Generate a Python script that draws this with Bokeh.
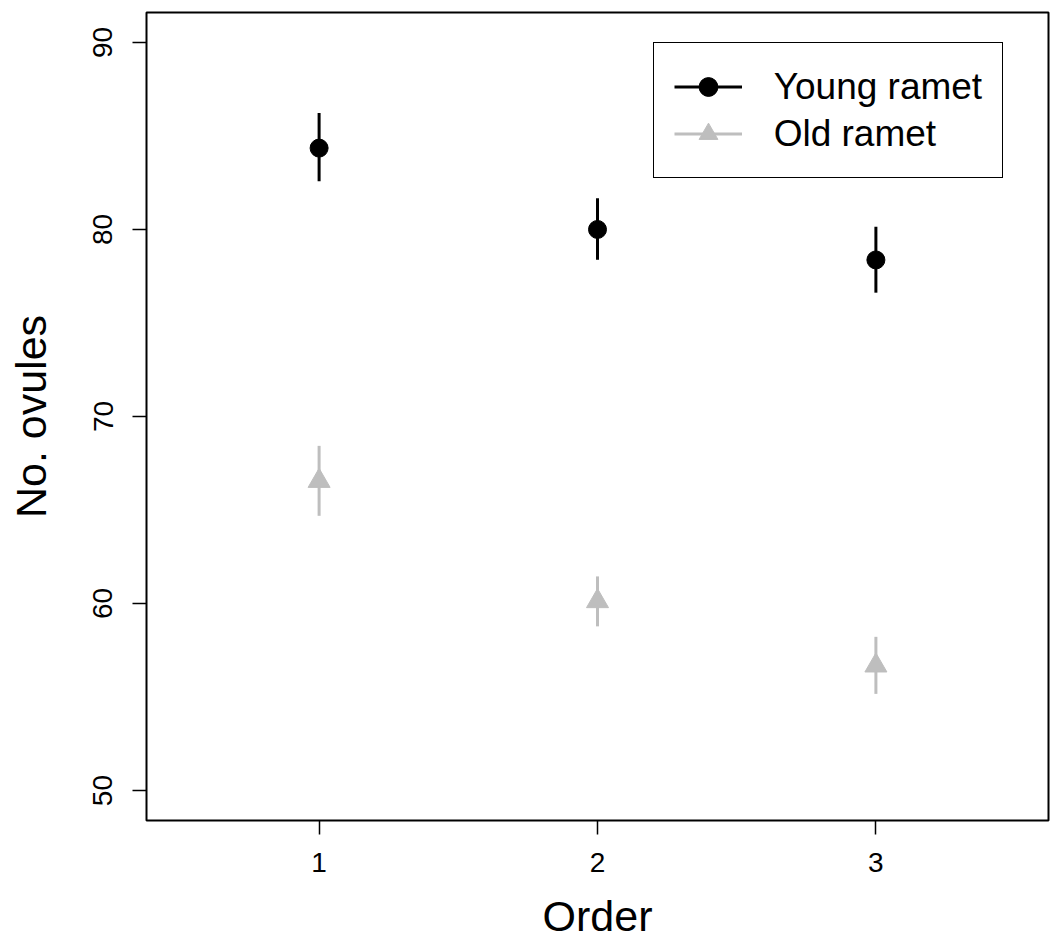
from bokeh.plotting import figure
from bokeh.models import ColumnDataSource, Range1d, FixedTicker, Legend, LegendItem
from bokeh.embed import file_html
from bokeh.resources import INLINE

# ---- data ----
order = [1, 2, 3]
young_mean = [84.35, 80.0, 78.37]
young_lo = [82.58, 78.38, 76.62]
young_hi = [86.23, 81.67, 80.14]
old_mean = [66.55, 60.12, 56.68]
old_lo = [64.69, 58.78, 55.17]
old_hi = [68.43, 61.45, 58.22]
y_ticks = [50, 60, 70, 80, 90]
x_ticks = [1, 2, 3]
series_names = ["Young ramet", "Old ramet"]
x_title = "Order"
y_title = "No. ovules"

FONT = "Liberation Sans"
GRAY = "#BEBEBE"

young = ColumnDataSource(dict(x=order, m=young_mean, lo=young_lo, hi=young_hi))
old = ColumnDataSource(dict(x=order, m=old_mean, lo=old_lo, hi=old_hi))

p = figure(width=1052, height=943, output_backend="svg", toolbar_location=None,
           x_range=Range1d(0.38, 3.62), y_range=Range1d(48.4, 91.6),
           min_border_left=146, min_border_right=4, min_border_top=12, min_border_bottom=123)
p.background_fill_color = "white"
p.border_fill_color = "white"
p.outline_line_color = "black"
p.outline_line_width = 2
p.grid.visible = False

for ax in (p.xaxis[0], p.yaxis[0]):
    ax.axis_line_color = None
    ax.major_tick_in = 0
    ax.major_tick_out = 14
    ax.major_tick_line_width = 1.5
    ax.major_tick_line_color = "black"
    ax.minor_tick_line_color = None
    ax.major_label_text_font = FONT
    ax.major_label_text_font_size = "28px"
    ax.major_label_text_color = "black"
    ax.axis_label_text_font = FONT
    ax.axis_label_text_font_size = "43px"
    ax.axis_label_text_font_style = "normal"
    ax.axis_label_text_color = "black"

p.xaxis.ticker = FixedTicker(ticks=x_ticks)
p.yaxis.ticker = FixedTicker(ticks=y_ticks)
p.xaxis.axis_label = x_title
p.yaxis.axis_label = y_title
p.xaxis.major_label_standoff = 18
p.xaxis.axis_label_standoff = 17
p.yaxis.major_label_orientation = "vertical"
p.yaxis.major_label_standoff = 20
p.yaxis.axis_label_standoff = 36

yseg = p.segment(x0="x", y0="lo", x1="x", y1="hi", source=young, line_color="black", line_width=3)
ypts = p.scatter(x="x", y="m", source=young, marker="circle", size=18, fill_color="black", line_color="black")
oseg = p.segment(x0="x", y0="lo", x1="x", y1="hi", source=old, line_color=GRAY, line_width=3)
opts = p.scatter(x="x", y="m", source=old, marker="triangle", size=22, fill_color=GRAY, line_color=GRAY)

legend = Legend(items=[LegendItem(label=series_names[0], renderers=[yseg, ypts]),
                       LegendItem(label=series_names[1], renderers=[oseg, opts])],
                location=(506.7, 642), padding=20, spacing=0,
                glyph_height=47, label_height=47, glyph_width=68, label_standoff=32,
                label_text_font=FONT, label_text_font_size="37px", label_text_color="black",
                border_line_color="black", border_line_width=1.5, border_line_alpha=1.0,
                background_fill_color="white", background_fill_alpha=1.0, margin=0)
p.add_layout(legend)

open("out.html", "w").write(file_html(p, INLINE))
